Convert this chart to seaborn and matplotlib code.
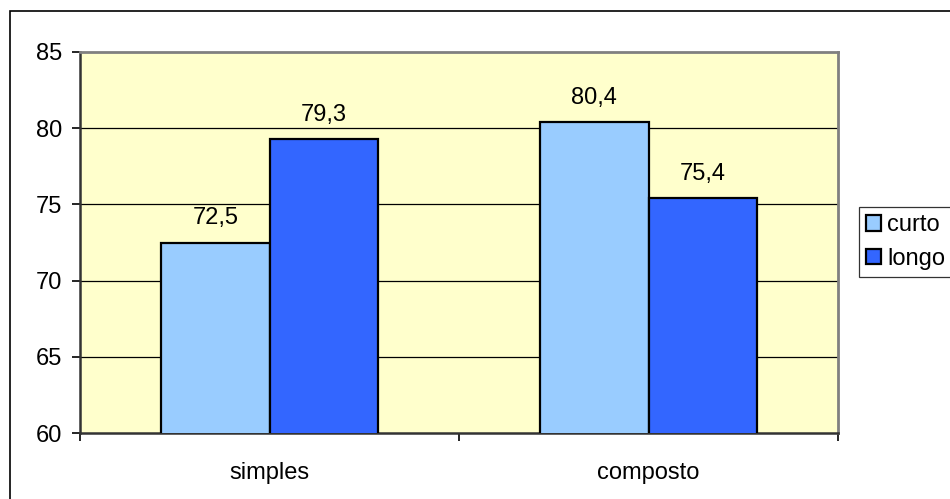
import matplotlib
matplotlib.use("Agg")
import matplotlib.pyplot as plt
import matplotlib.patches as mpatches
import seaborn as sns
import pandas as pd

categories = ["simples", "composto"]
series = ["curto", "longo"]
curto_values = [72.5, 80.4]
longo_values = [79.3, 75.4]
y_ticks = [60, 65, 70, 75, 80, 85]

colors = {"curto": "#99CCFF", "longo": "#3366FF"}

df = pd.DataFrame({
    "categoria": categories * 2,
    "serie": [series[0]] * len(categories) + [series[1]] * len(categories),
    "valor": curto_values + longo_values,
})

sns.set_style("white")
plt.rcParams["font.family"] = ["Liberation Sans", "DejaVu Sans"]
plt.rcParams["text.color"] = "black"
plt.rcParams["xtick.color"] = "black"
plt.rcParams["ytick.color"] = "black"
plt.rcParams["xtick.labelcolor"] = "black"
plt.rcParams["ytick.labelcolor"] = "black"

FS = 17
W, H = 950, 499
fig = plt.figure(figsize=(W / 100, H / 100), dpi=100)
ax = fig.add_axes([80 / W, 1 - 433 / H, (838 - 80) / W, (433 - 52) / H])
ax.set_facecolor("#FFFFCC")

sns.barplot(data=df, x="categoria", y="valor", hue="serie", order=categories,
            hue_order=series, palette=colors, saturation=1, width=0.572, gap=0,
            edgecolor="black", linewidth=1.6, errorbar=None, ax=ax,
            legend=False, zorder=3)

ax.set_ylim(60, 85)
ax.set_xlim(-0.5, 1.5)
ax.set_yticks(y_ticks)
ax.set_yticklabels([str(t) for t in y_ticks])
ax.grid(False)
for t in y_ticks[1:-1]:
    ax.axhline(t, color="black", linewidth=0.9, zorder=1)

# category labels without marks; marks at group boundaries
ax.set_xticks([0, 1])
ax.set_xticklabels(categories)
ax.set_xticks([-0.5, 0.5, 1.5], minor=True)
ax.tick_params(axis="x", which="major", bottom=True, length=0, pad=21, labelsize=FS,
               labelcolor="black")
ax.tick_params(axis="x", which="minor", bottom=True, length=6, width=1.2,
               color="black", direction="out")
ax.tick_params(axis="y", which="major", left=True, length=6, width=1.2,
               color="black", direction="out", pad=7, labelsize=FS, labelcolor="black")
ax.set_xlabel("")
ax.set_ylabel("")

for side in ["top", "right"]:
    ax.spines[side].set_visible(True)
    ax.spines[side].set_color("#808080")
    ax.spines[side].set_linewidth(2)
for side in ["left", "bottom"]:
    ax.spines[side].set_visible(True)
    ax.spines[side].set_color("#333333")
    ax.spines[side].set_linewidth(1.8)

# value labels
for patch, val in zip(ax.patches, curto_values + longo_values):
    x = patch.get_x() + patch.get_width() / 2
    ax.annotate(f"{val:.1f}".replace(".", ","), (x, patch.get_height()),
                xytext=(0, 17.3), textcoords="offset points",
                ha="center", va="center", fontsize=FS, color="black")

handles = [mpatches.Patch(facecolor=colors[s], edgecolor="black", linewidth=1.6, label=s)
           for s in series]
leg = fig.legend(handles=handles, loc="upper left",
                 bbox_to_anchor=(859 / W, 1 - 207 / H), frameon=True,
                 fancybox=False, edgecolor="black", fontsize=FS,
                 handlelength=0.65, handleheight=0.65, handletextpad=0.25,
                 borderpad=0.3, labelspacing=0.5, borderaxespad=0)
leg.get_frame().set_linewidth(0.9)
for txt in leg.get_texts():
    txt.set_color("black")

# chart-area border
fig.patches.append(mpatches.Rectangle((10 / W, -0.1), 1.2, 1.1 - 11 / H,
                                      transform=fig.transFigure, fill=False,
                                      edgecolor="black", linewidth=1.2))

fig.savefig("out.png", dpi=100)
